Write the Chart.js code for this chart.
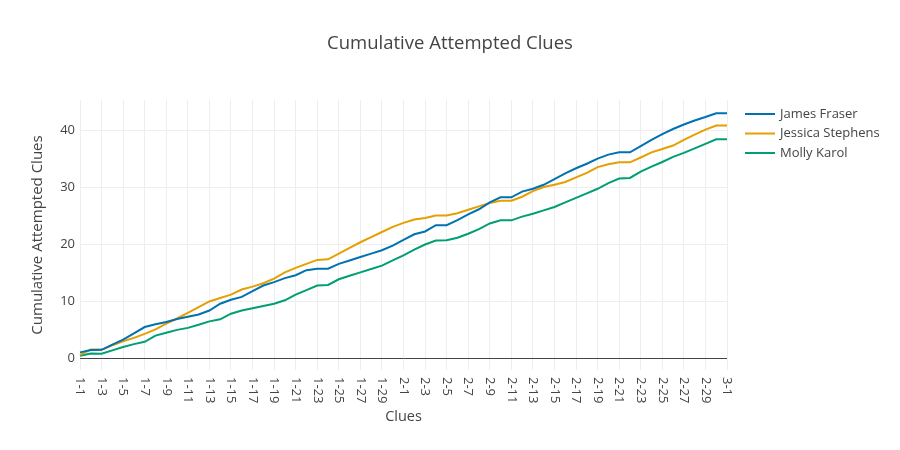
<!DOCTYPE html>
<html>
<head>
<meta charset="utf-8">
<script src="https://cdn.jsdelivr.net/npm/chart.js@4/dist/chart.umd.min.js"></script>
<style>
  html, body { margin: 0; padding: 0; background: #fff; }
  #wrap { width: 900px; height: 450px; }
</style>
</head>
<body>
<div id="wrap"><canvas id="chart" width="900" height="450"></canvas></div>
<script>
// Clue ids (round-clue)
const clues = [
  '1-1','1-2','1-3','1-4','1-5','1-6','1-7','1-8','1-9','1-10',
  '1-11','1-12','1-13','1-14','1-15','1-16','1-17','1-18','1-19','1-20',
  '1-21','1-22','1-23','1-24','1-25','1-26','1-27','1-28','1-29','1-30',
  '2-1','2-2','2-3','2-4','2-5','2-6','2-7','2-8','2-9','2-10',
  '2-11','2-12','2-13','2-14','2-15','2-16','2-17','2-18','2-19','2-20',
  '2-21','2-22','2-23','2-24','2-25','2-26','2-27','2-28','2-29','2-30',
  '3-1'
];

const jamesFraser = [
  1.05, 1.45, 1.5, 2.4, 3.3, 4.4, 5.5, 6.0, 6.4, 6.9,
  7.3, 7.7, 8.4, 9.6, 10.3, 10.8, 11.8, 12.8, 13.4, 14.1,
  14.6, 15.5, 15.75, 15.75, 16.6, 17.2, 17.8, 18.4, 19.0, 19.8,
  20.8, 21.8, 22.3, 23.4, 23.4, 24.3, 25.3, 26.2, 27.4, 28.3,
  28.3, 29.3, 29.8, 30.5, 31.5, 32.5, 33.4, 34.2, 35.1, 35.8,
  36.2, 36.2, 37.3, 38.4, 39.4, 40.3, 41.1, 41.8, 42.4, 43.05,
  43.05
];
const jessicaStephens = [
  0.6, 1.55, 1.5, 2.3, 3.0, 3.6, 4.3, 5.1, 6.1, 7.0,
  8.0, 9.0, 10.0, 10.6, 11.2, 12.1, 12.6, 13.2, 14.0, 15.1,
  15.9, 16.6, 17.3, 17.4, 18.4, 19.4, 20.4, 21.3, 22.2, 23.1,
  23.8, 24.4, 24.65, 25.1, 25.1, 25.5, 26.1, 26.7, 27.3, 27.7,
  27.7, 28.4, 29.4, 30.1, 30.5, 31.0, 31.8, 32.6, 33.6, 34.1,
  34.45, 34.45, 35.3, 36.2, 36.8, 37.4, 38.4, 39.3, 40.2, 40.9,
  40.9
];
const mollyKarol = [
  0.45, 0.85, 0.8, 1.4, 2.0, 2.5, 2.9, 4.0, 4.5, 5.0,
  5.35, 5.9, 6.5, 6.85, 7.85, 8.4, 8.8, 9.2, 9.6, 10.2,
  11.2, 12.0, 12.8, 12.9, 13.9, 14.5, 15.1, 15.7, 16.3, 17.2,
  18.1, 19.1, 20.0, 20.7, 20.75, 21.2, 21.9, 22.7, 23.7, 24.25,
  24.25, 24.9, 25.4, 26.0, 26.6, 27.4, 28.2, 29.0, 29.8, 30.8,
  31.6, 31.7, 32.8, 33.7, 34.5, 35.4, 36.1, 36.9, 37.7, 38.5,
  38.5
];

const seriesNames = ['James Fraser', 'Jessica Stephens', 'Molly Karol'];
const seriesColors = ['#0072B2', '#E69F00', '#009E73'];
const yTicks = [0, 10, 20, 30, 40];
const chartTitle = 'Cumulative Attempted Clues';

const FONT = "'Open Sans', verdana, arial, sans-serif";
Chart.defaults.font.family = FONT;
Chart.defaults.color = '#444';

// title centred on the whole canvas, like plotly does it
const pageTitle = {
    id: 'pageTitle',
    afterDraw(chart) {
        const ctx = chart.ctx;
        ctx.save();
        ctx.font = '18.5px ' + FONT;
        ctx.fillStyle = '#444';
        ctx.textAlign = 'center';
        ctx.textBaseline = 'middle';
        ctx.fillText(chartTitle, chart.width / 2, 44);
        ctx.restore();
    }
};

// x tick labels read top-to-bottom, so draw them by hand
const clueLabels = {
    id: 'clueLabels',
    afterDraw(chart) {
        const ctx = chart.ctx;
        const xs = chart.scales.x;
        ctx.save();
        ctx.font = '13px ' + FONT;
        ctx.fillStyle = '#444';
        ctx.textAlign = 'left';
        ctx.textBaseline = 'middle';
        clues.forEach((label, i) => {
            if (i % 2) return;
            ctx.save();
            ctx.translate(xs.getPixelForValue(i), chart.chartArea.bottom + 7);
            ctx.rotate(Math.PI / 2);
            ctx.fillText(label, 0, 0);
            ctx.restore();
        });
        ctx.restore();
    }
};

// Plotly style legend on the right
const sideLegend = {
    id: 'sideLegend',
    afterDraw(chart) {
        const ctx = chart.ctx;
        ctx.save();
        ctx.font = '13px ' + FONT;
        ctx.textAlign = 'left';
        ctx.textBaseline = 'middle';
        chart.data.datasets.forEach((ds, i) => {
            const y = 114 + i * 19.5;
            ctx.strokeStyle = ds.borderColor;
            ctx.lineWidth = 2;
            ctx.beginPath();
            ctx.moveTo(745, y);
            ctx.lineTo(775, y);
            ctx.stroke();
            ctx.fillStyle = '#444';
            ctx.fillText(ds.label, 780, y);
        });
        ctx.restore();
    }
};

const allSeries = [jamesFraser, jessicaStephens, mollyKarol];

new Chart(document.getElementById('chart'), {
    type: 'line',
    data: {
        labels: clues,
        datasets: allSeries.map((data, i) => ({
            label: seriesNames[i],
            data: data,
            borderColor: seriesColors[i],
            backgroundColor: seriesColors[i],
            borderWidth: 2,
            pointRadius: 0,
            tension: 0,
            fill: false
        }))
    },
    options: {
        responsive: false,
        animation: false,
        devicePixelRatio: 1,
        layout: { padding: { left: 0, right: 173, top: 100, bottom: 0 } },
        plugins: {
            legend: { display: false },
            tooltip: { enabled: false },
            title: { display: false }
        },
        scales: {
            x: {
                type: 'category',
                offset: false,
                afterFit: (scale) => { scale.height = 80; },
                border: { display: false },
                grid: {
                    drawTicks: false,
                    color: (c) => (c.index % 2 === 0 ? '#eeeeee' : 'rgba(0,0,0,0)'),
                    lineWidth: 1
                },
                ticks: { display: false },
                title: {
                    display: true,
                    text: 'Clues',
                    color: '#444',
                    font: { size: 14.5 },
                    padding: { top: 0, bottom: 24.3 }
                }
            },
            y: {
                min: -2.05,
                max: 45.4,
                afterFit: (scale) => { scale.width = 80; },
                afterBuildTicks: (scale) => {
                    scale.ticks = yTicks.map(v => ({ value: v }));
                },
                border: { display: false },
                grid: {
                    drawTicks: false,
                    color: (c) => (c.tick && c.tick.value === 0 ? '#444444' : '#eeeeee'),
                    lineWidth: 1
                },
                ticks: {
                    padding: 5,
                    color: '#444',
                    font: { size: 13 }
                },
                title: {
                    display: true,
                    text: 'Cumulative Attempted Clues',
                    color: '#444',
                    font: { size: 15 },
                    padding: { top: 29, bottom: 0 }
                }
            }
        }
    },
    plugins: [pageTitle, clueLabels, sideLegend]
});
</script>
</body>
</html>
